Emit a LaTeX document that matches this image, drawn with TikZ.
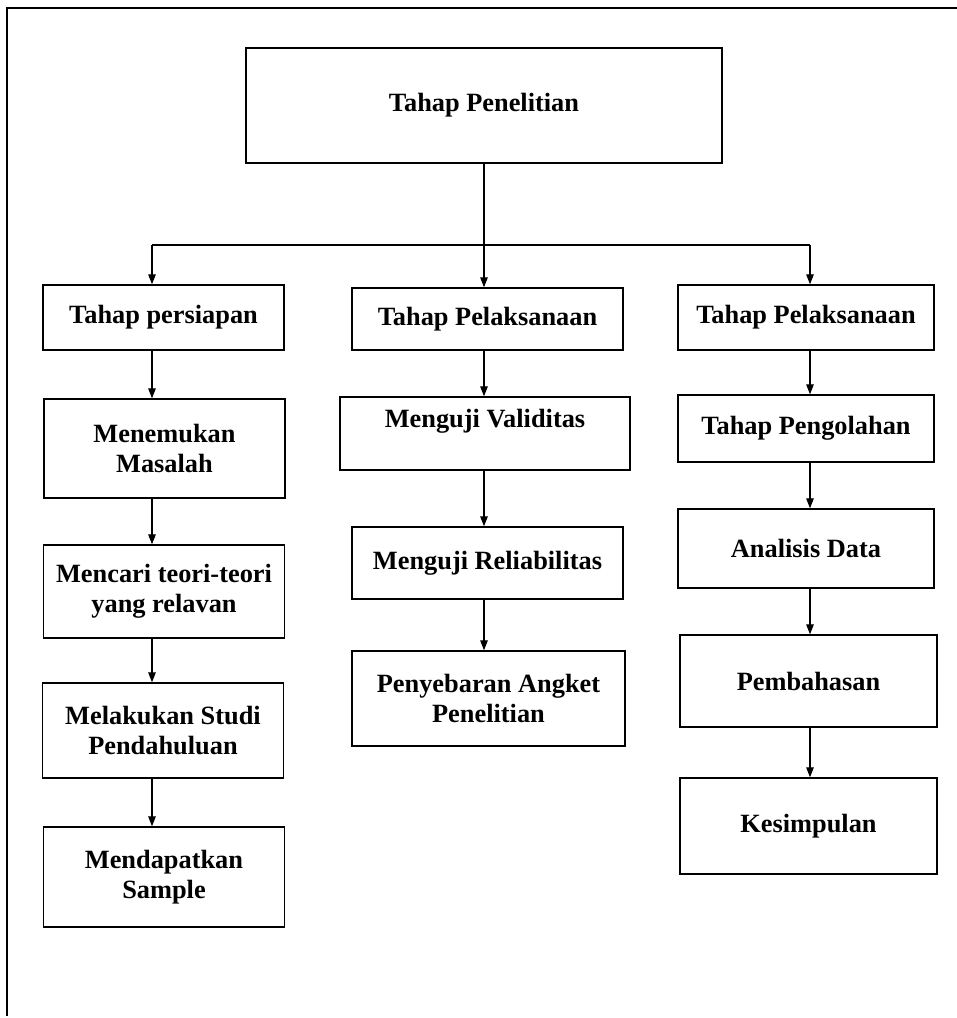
\documentclass[tikz,border=0pt]{standalone}
\usepackage{fontspec}
\setmainfont{Liberation Serif}
\usetikzlibrary{arrows.meta}

\begin{document}
\begin{tikzpicture}
[ x=0.02cm, y=-0.02cm, line width=0.8pt
, stage/.style={rectangle, draw, inner sep=0pt, align=center, font=\fontsize{15}{17}\selectfont\bfseries}
, colone/.style={stage, minimum width=4.82cm}
, coltwo/.style={stage, minimum width=5.42cm}
, colthree/.style={stage, minimum width=5.12cm}
, arrow/.style={-{Triangle[length=0.2cm, width=0.15cm]}, line width=0.7pt}
, point/.style={coordinate}
]
\useasboundingbox (0,0) rectangle (957,1018);
% Frame:
\coordinate (f0) at (7,8);
\coordinate (f1) at (957,8);
\coordinate (f2) at (7,1016);
\draw (f2) -- (f0) -- (f1);
% Top:
\node (top) [stage, minimum width=9.52cm, minimum height=2.3cm] at (484,105.5) {Tahap Penelitian};
\node (a1) [point] at (152,245) {};
\node (a2) [point] at (484,245) {};
\node (a3) [point] at (810,245) {};
% First column:
\node (persiapan) [colone, minimum height=1.3cm] at (163.5,317.5) {Tahap persiapan};
\node (masalah) [colone, minimum height=1.98cm] at (164.5,448.5) {Menemukan\\Masalah};
\node (teori) [colone, minimum height=1.86cm] at (164,591.5) {Mencari teori-teori\\yang relavan};
\node (studi) [colone, minimum height=1.9cm] at (163,730.5) {Melakukan Studi\\Pendahuluan};
\node (sample) [colone, minimum height=2cm] at (164,877) {Mendapatkan\\Sample};
% Second column:
\node (pelaksanaan1) [coltwo, minimum height=1.24cm] at (487.5,319) {Tahap Pelaksanaan};
\node (validitas) [coltwo, minimum width=5.8cm, minimum height=1.46cm] at (485,433.5) {Menguji Validitas\\~};
\node (reliabilitas) [coltwo, minimum height=1.44cm] at (487.5,563) {Menguji Reliabilitas};
\node (angket) [coltwo, minimum width=5.46cm, minimum height=1.9cm] at (488.5,698.5) {Penyebaran Angket\\Penelitian};
% Third column:
\node (pelaksanaan2) [colthree, minimum height=1.3cm] at (806,317.5) {Tahap Pelaksanaan};
\node (pengolahan) [colthree, minimum height=1.34cm] at (806,428.5) {Tahap Pengolahan};
\node (analisis) [colthree, minimum height=1.58cm] at (806,548.5) {Analisis Data};
\node (pembahasan) [colthree, minimum width=5.14cm, minimum height=1.84cm] at (808.5,681) {Pembahasan};
\node (kesimpulan) [colthree, minimum width=5.14cm, minimum height=1.92cm] at (808.5,826) {Kesimpulan};
% Connectors:
\draw (top.south) -- (a2);
\draw (a1) -- (a3);
\draw [arrow] (a1) -- (persiapan.north -| a1);
\draw [arrow] (a2) -- (pelaksanaan1.north -| a2);
\draw [arrow] (a3) -- (pelaksanaan2.north -| a3);
\draw [arrow] (persiapan.south -| a1) -- (masalah.north -| a1);
\draw [arrow] (masalah.south -| a1) -- (teori.north -| a1);
\draw [arrow] (teori.south -| a1) -- (studi.north -| a1);
\draw [arrow] (studi.south -| a1) -- (sample.north -| a1);
\draw [arrow] (pelaksanaan1.south -| a2) -- (validitas.north -| a2);
\draw [arrow] (validitas.south -| a2) -- (reliabilitas.north -| a2);
\draw [arrow] (reliabilitas.south -| a2) -- (angket.north -| a2);
\draw [arrow] (pelaksanaan2.south -| a3) -- (pengolahan.north -| a3);
\draw [arrow] (pengolahan.south -| a3) -- (analisis.north -| a3);
\draw [arrow] (analisis.south -| a3) -- (pembahasan.north -| a3);
\draw [arrow] (pembahasan.south -| a3) -- (kesimpulan.north -| a3);
\end{tikzpicture}
\end{document}
